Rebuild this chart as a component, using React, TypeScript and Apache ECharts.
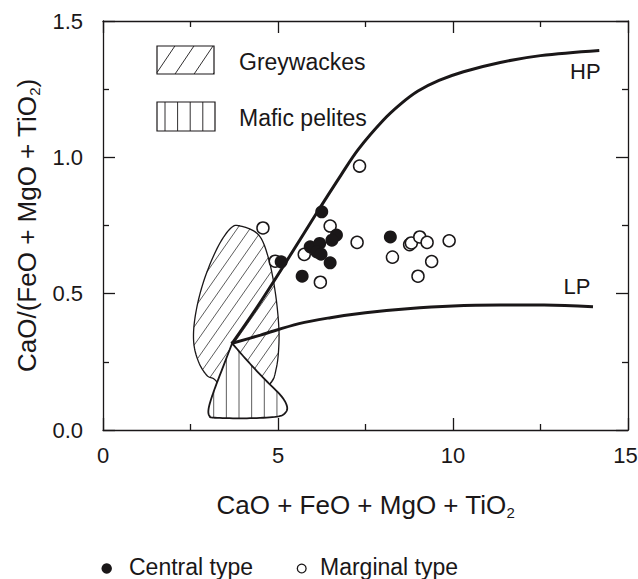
import { useEffect, useRef } from "react";
import * as echarts from "echarts";

const FONT = '"Liberation Sans", Arial, Helvetica, sans-serif';
const INK = "#1a1718";

// ---- data ----
const xRange = [0, 15];
const yRange = [0, 1.5];
const xInterval = 5;
const yInterval = 0.5;

const centralType: number[][] = [
  [6.25, 0.8], [6.67, 0.715], [6.54, 0.696], [5.92, 0.672], [6.19, 0.684],
  [6.11, 0.653], [6.23, 0.645], [5.09, 0.617], [6.49, 0.613], [5.69, 0.564],
  [8.21, 0.708],
];

const marginalType: number[][] = [
  [7.33, 0.968], [4.57, 0.741], [6.49, 0.748], [7.26, 0.688], [5.75, 0.644],
  [6.21, 0.542], [4.92, 0.619], [8.27, 0.634], [8.76, 0.68], [8.81, 0.686],
  [9.05, 0.708], [9.26, 0.688], [9.89, 0.694], [9.39, 0.618], [9.0, 0.564],
];

const hpCurve: number[][] = [
  [3.69, 0.318], [4.4, 0.45], [5.2, 0.61], [6.1, 0.795], [6.8, 0.935],
  [7.3, 1.03], [8.0, 1.135], [8.5, 1.195], [9.0, 1.243], [9.6, 1.282],
  [10.3, 1.314], [11.35, 1.348], [12.5, 1.373], [14.18, 1.392],
];

const lpCurve: number[][] = [
  [3.69, 0.318], [4.5, 0.348], [5.6, 0.39], [6.5, 0.412], [7.5, 0.43],
  [8.7, 0.445], [10.0, 0.455], [11.35, 0.458], [12.6, 0.458], [14.0, 0.452],
];

const greywackeOutline: number[][] = [
  [3.93, 0.748], [4.45, 0.715], [4.73, 0.629], [4.92, 0.507], [5.02, 0.385],
  [5.02, 0.3], [4.95, 0.226], [4.78, 0.17], [4.2, 0.12], [3.6, 0.12],
  [3.21, 0.183], [2.97, 0.2], [2.73, 0.25], [2.59, 0.324], [2.64, 0.421],
  [2.87, 0.543], [3.26, 0.666], [3.64, 0.739],
];

const maficOutline: number[][] = [
  [3.69, 0.318], [3.69, 0.318], [3.45, 0.238], [3.16, 0.14], [3.02, 0.08],
  [3.04, 0.052], [3.2, 0.045], [4.11, 0.043], [4.97, 0.049], [5.22, 0.065],
  [5.25, 0.09], [5.07, 0.128], [4.59, 0.19], [4.11, 0.256], [3.69, 0.318],
];

const curveLabelNames = ["HP", "LP"];
const curveLabelPos: number[][] = [
  [13.78, 1.316],
  [13.54, 0.528],
];

const fieldNames = ["Greywackes", "Mafic pelites"];
const seriesNames = ["Central type", "Marginal type"];

// ---- geometry helpers ----
function closedSpline(pts: number[][], n = 10): number[][] {
  const out: number[][] = [];
  const m = pts.length;
  for (let i = 0; i < m; i++) {
    const p0 = pts[(i - 1 + m) % m];
    const p1 = pts[i];
    const p2 = pts[(i + 1) % m];
    const p3 = pts[(i + 2) % m];
    for (let k = 0; k < n; k++) {
      const t = k / n;
      const t2 = t * t;
      const t3 = t2 * t;
      const f = (a: number, b: number, c: number, d: number) =>
        0.5 * (2 * b + (-a + c) * t + (2 * a - 5 * b + 4 * c - d) * t2 + (-a + 3 * b - 3 * c + d) * t3);
      out.push([f(p0[0], p1[0], p2[0], p3[0]), f(p0[1], p1[1], p2[1], p3[1])]);
    }
  }
  return out;
}

function hatch(poly: number[][], angleDeg: number, spacing: number, anchor = 0): number[][][] {
  const a = (angleDeg * Math.PI) / 180;
  const d = [Math.cos(a), -Math.sin(a)];
  const nrm = [Math.sin(a), Math.cos(a)];
  const proj = poly.map((p) => p[0] * nrm[0] + p[1] * nrm[1]);
  const min = Math.min(...proj);
  const max = Math.max(...proj);
  const segs: number[][][] = [];
  const start = Math.ceil((min - anchor) / spacing) * spacing + anchor;
  for (let c = start; c <= max; c += spacing) {
    const hits: number[][] = [];
    for (let i = 0; i < poly.length; i++) {
      const j = (i + 1) % poly.length;
      const va = proj[i] - c;
      const vb = proj[j] - c;
      if (va < 0 !== vb < 0) {
        const t = va / (va - vb);
        const A = poly[i];
        const B = poly[j];
        hits.push([A[0] + t * (B[0] - A[0]), A[1] + t * (B[1] - A[1])]);
      }
    }
    hits.sort((p, q) => p[0] * d[0] + p[1] * d[1] - (q[0] * d[0] + q[1] * d[1]));
    for (let k = 0; k + 1 < hits.length; k += 2) segs.push([hits[k], hits[k + 1]]);
  }
  return segs;
}

function segLines(segs: number[][][], stroke: string, lineWidth: number) {
  return segs.map((s) => ({
    type: "line",
    shape: { x1: s[0][0], y1: s[0][1], x2: s[1][0], y2: s[1][1] },
    style: { stroke, lineWidth },
    silent: true,
  }));
}

function rectPoly(x: number, y: number, w: number, h: number) {
  return [[x, y], [x + w, y], [x + w, y + h], [x, y + h]];
}

// ---- legends (pixel layout) ----
function buildGraphics() {
  const gw = { x: 157, y: 46, w: 57, h: 28 };
  const mf = { x: 157, y: 102, w: 58, h: 29 };
  const gwPoly = rectPoly(gw.x, gw.y, gw.w, gw.h);
  const mfPoly = rectPoly(mf.x, mf.y, mf.w, mf.h);
  const rad = (56 * Math.PI) / 180;
  const children: any[] = [];
  children.push(...segLines(hatch(gwPoly, 56, 15.8, 156 * Math.sin(rad) + 74 * Math.cos(rad)), INK, 0.9));
  children.push({ type: "rect", shape: { x: gw.x, y: gw.y, width: gw.w, height: gw.h }, style: { fill: "none", stroke: INK, lineWidth: 1.2 } });
  children.push(...segLines(hatch(mfPoly, 90, 12.6, 165), INK, 0.9));
  children.push({ type: "rect", shape: { x: mf.x, y: mf.y, width: mf.w, height: mf.h }, style: { fill: "none", stroke: INK, lineWidth: 1.2 } });
  children.push({
    type: "text", x: 239, y: 62, style: { text: fieldNames[0], fill: INK, font: `23px ${FONT}`, verticalAlign: "middle", align: "left" },
  });
  children.push({
    type: "text", x: 239, y: 118, style: { text: fieldNames[1], fill: INK, font: `23px ${FONT}`, verticalAlign: "middle", align: "left" },
  });
  // bottom legend for the two sample series
  children.push({ type: "circle", shape: { cx: 106.7, cy: 568.5, r: 5.2 }, style: { fill: INK, stroke: "none" } });
  children.push({
    type: "text", x: 129, y: 567, style: { text: seriesNames[0], fill: INK, font: `23px ${FONT}`, verticalAlign: "middle", align: "left" },
  });
  children.push({ type: "circle", shape: { cx: 301.7, cy: 568.5, r: 4.4 }, style: { fill: "#fff", stroke: INK, lineWidth: 1.3 } });
  children.push({
    type: "text", x: 320, y: 567, style: { text: seriesNames[1], fill: INK, font: `23px ${FONT}`, verticalAlign: "middle", align: "left" },
  });
  return [{ type: "group", x: 0, y: 0, children }];
}

function renderFields(_params: any, api: any) {
  const gwPx = closedSpline(greywackeOutline.map((p) => api.coord(p)), 10);
  const mfPx = closedSpline(maficOutline.map((p) => api.coord(p)), 10);
  const children: any[] = [];
  children.push({ type: "polygon", shape: { points: gwPx }, style: { fill: "#fff", stroke: "none" } });
  children.push(...segLines(hatch(gwPx, 55, 10.5), "#333", 0.8));
  children.push({ type: "polygon", shape: { points: gwPx }, style: { fill: "none", stroke: INK, lineWidth: 1.3 } });
  children.push({ type: "polygon", shape: { points: mfPx }, style: { fill: "#fff", stroke: "none" } });
  const anchor = api.coord([4.97, 0])[0];
  children.push(...segLines(hatch(mfPx, 90, 12.65, anchor), "#333", 0.8));
  children.push({ type: "polygon", shape: { points: mfPx }, style: { fill: "none", stroke: INK, lineWidth: 1.8 } });
  return { type: "group", children };
}

function renderCurveLabel(params: any, api: any) {
  const p = api.coord([api.value(0), api.value(1)]);
  return {
    type: "text",
    x: p[0],
    y: p[1],
    style: {
      text: curveLabelNames[params.dataIndex],
      fill: INK,
      font: `22px ${FONT}`,
      align: "center",
      verticalAlign: "middle",
    },
  };
}

const axisLineStyle = { color: INK, width: 1.3 };

const nameStyle = {
  fontSize: 26,
  fontFamily: FONT,
  color: INK,
  lineHeight: 30,
  rich: { s: { fontSize: 15, lineHeight: 15, verticalAlign: "bottom", fontFamily: FONT, color: INK } },
};

function xAxisOf(position: "bottom" | "top", withLabels: boolean) {
  return {
    type: "value",
    position,
    min: xRange[0],
    max: xRange[1],
    interval: xInterval,
    splitLine: { show: false },
    axisLine: { show: true, onZero: false, lineStyle: axisLineStyle },
    axisTick: { show: true, inside: true, length: 12, lineStyle: axisLineStyle },
    minorTick: { show: true, splitNumber: 2, length: 6, lineStyle: axisLineStyle },
    minorSplitLine: { show: false },
    axisLabel: withLabels
      ? {
          show: true,
          fontSize: 22,
          fontFamily: FONT,
          color: INK,
          margin: 14,
          formatter: (v: number) => (v === xRange[1] ? `{m|${v}}` : `${v}`),
          rich: { m: { fontSize: 22, fontFamily: FONT, color: INK, padding: [0, 5, 0, 0] } },
        }
      : { show: false },
    name: withLabels ? "CaO + FeO + MgO + TiO{s|2}" : "",
    nameLocation: "middle",
    nameGap: 60,
    nameTextStyle: nameStyle,
  };
}

function yAxisOf(position: "left" | "right", withLabels: boolean) {
  return {
    type: "value",
    position,
    min: yRange[0],
    max: yRange[1],
    interval: yInterval,
    splitLine: { show: false },
    axisLine: { show: true, onZero: false, lineStyle: axisLineStyle },
    axisTick: { show: true, inside: true, length: 12, lineStyle: axisLineStyle },
    minorTick: { show: true, splitNumber: 2, length: 6, lineStyle: axisLineStyle },
    minorSplitLine: { show: false },
    axisLabel: withLabels
      ? { show: true, fontSize: 22, fontFamily: FONT, color: INK, margin: 20, formatter: (v: number) => v.toFixed(1) }
      : { show: false },
    name: withLabels ? "CaO/(FeO + MgO + TiO{s|2})" : "",
    nameLocation: "middle",
    nameGap: 61,
    nameTextStyle: nameStyle,
  };
}

function buildOption(): any {
  return {
    animation: false,
    backgroundColor: "#fff",
    textStyle: { fontFamily: FONT },
    grid: { left: 103, top: 21, width: 525, height: 409, containLabel: false, outerBoundsMode: "none" },
    xAxis: [xAxisOf("bottom", true), xAxisOf("top", false)],
    yAxis: [yAxisOf("left", true), yAxisOf("right", false)],
    graphic: buildGraphics(),
    series: [
      {
        name: "fields",
        type: "custom",
        coordinateSystem: "cartesian2d",
        xAxisIndex: 0,
        yAxisIndex: 0,
        silent: true,
        z: 1,
        data: [[0, 0]],
        renderItem: renderFields,
      },
      {
        name: "HP",
        type: "line",
        data: hpCurve,
        smooth: 0.35,
        symbol: "none",
        silent: true,
        z: 3,
        lineStyle: { color: INK, width: 3 },
      },
      {
        name: "LP",
        type: "line",
        data: lpCurve,
        smooth: 0.35,
        symbol: "none",
        silent: true,
        z: 3,
        lineStyle: { color: INK, width: 3 },
      },
      {
        name: seriesNames[1],
        type: "scatter",
        data: marginalType,
        symbol: "circle",
        symbolSize: 12,
        z: 4,
        itemStyle: { color: "#fff", borderColor: INK, borderWidth: 1.5, opacity: 1 },
      },
      {
        name: seriesNames[0],
        type: "scatter",
        data: centralType,
        symbol: "circle",
        symbolSize: 13,
        z: 5,
        itemStyle: { color: INK, opacity: 1 },
      },
      {
        name: "curveLabels",
        type: "custom",
        coordinateSystem: "cartesian2d",
        xAxisIndex: 0,
        yAxisIndex: 0,
        silent: true,
        z: 6,
        data: curveLabelPos,
        renderItem: renderCurveLabel,
      },
    ],
  };
}

export default function App() {
  const ref = useRef<HTMLDivElement>(null);
  useEffect(() => {
    if (!ref.current) return;
    const chart = echarts.init(ref.current, null, { renderer: "svg" });
    chart.setOption(buildOption());
    return () => chart.dispose();
  }, []);
  return (
    <div
      ref={ref}
      style={{ position: "absolute", left: 0, top: 0, width: 638, height: 579, background: "#fff" }}
    />
  );
}
